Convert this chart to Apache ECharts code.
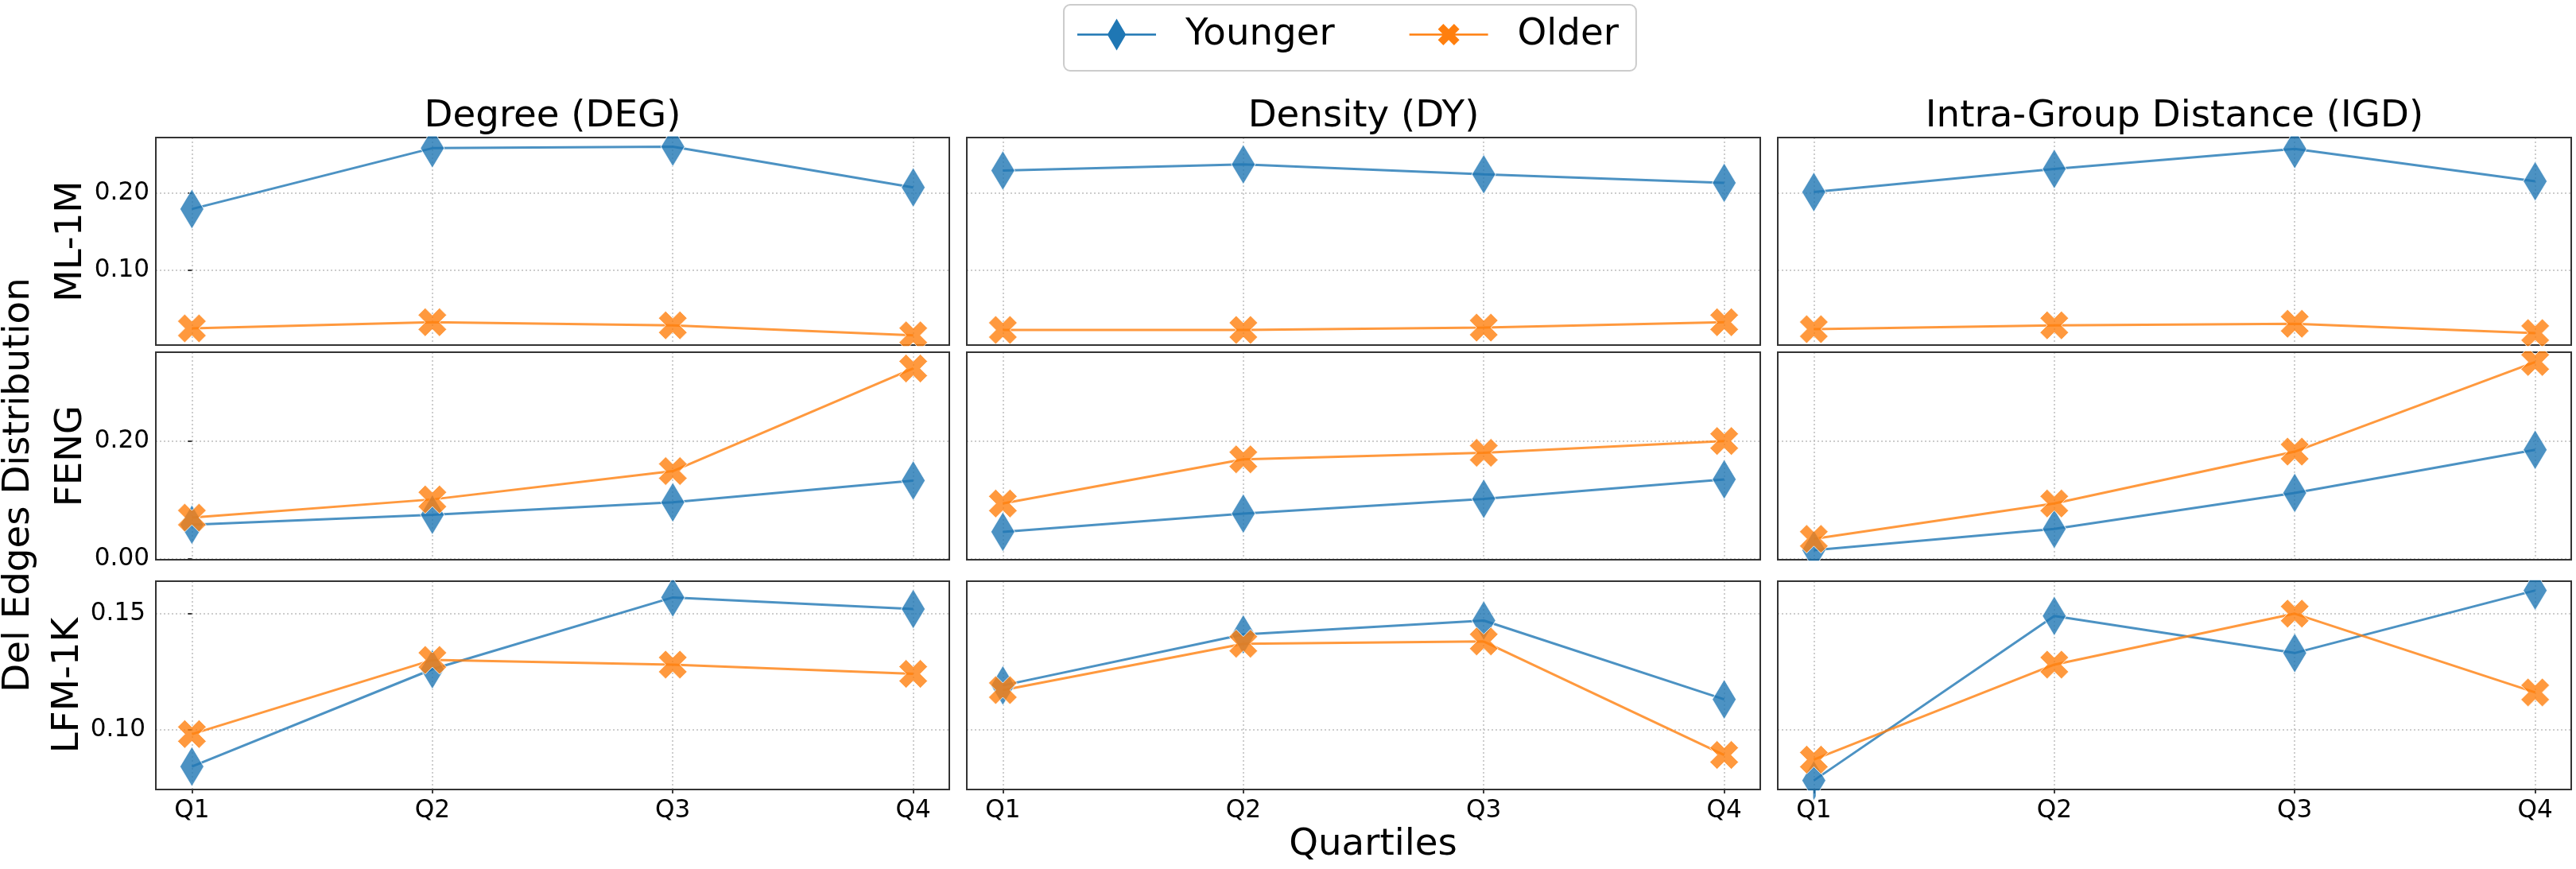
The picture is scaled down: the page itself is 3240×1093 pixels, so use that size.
<!DOCTYPE html>
<html><head><meta charset="utf-8">
<script src="https://cdn.jsdelivr.net/npm/echarts@6/dist/echarts.min.js"></script>
<style>html,body{margin:0;padding:0;background:#fff}#c{width:3240px;height:1093px}</style>
</head><body><div id="c"></div>
<script>
// ---------- data ----------
const quartiles = ['Q1', 'Q2', 'Q3', 'Q4'];
const metrics = ['Degree (DEG)', 'Density (DY)', 'Intra-Group Distance (IGD)'];
const datasets = ['ML-1M', 'FENG', 'LFM-1K'];
const groups = ['Younger', 'Older'];
// each array: [DEG, DY, IGD], each with values for Q1..Q4
const ml1mYounger = [[0.179, 0.258, 0.260, 0.207], [0.229, 0.237, 0.224, 0.213], [0.201, 0.231, 0.257, 0.215]];
const ml1mOlder   = [[0.024, 0.032, 0.028, 0.015], [0.022, 0.022, 0.025, 0.032], [0.023, 0.028, 0.030, 0.018]];
const fengYounger = [[0.058, 0.075, 0.096, 0.133], [0.046, 0.077, 0.102, 0.135], [0.015, 0.051, 0.112, 0.185]];
const fengOlder   = [[0.070, 0.101, 0.149, 0.323], [0.094, 0.169, 0.180, 0.200], [0.034, 0.094, 0.182, 0.334]];
const lfmYounger  = [[0.084, 0.126, 0.157, 0.152], [0.119, 0.141, 0.147, 0.113], [0.078, 0.149, 0.133, 0.160]];
const lfmOlder    = [[0.098, 0.130, 0.128, 0.124], [0.117, 0.137, 0.138, 0.089], [0.087, 0.128, 0.150, 0.116]];
const yTickValues = [[0.10, 0.20], [0.00, 0.20], [0.10, 0.15]];
const yTickStep = [0.1, 0.2, 0.05];
const yRanges = [[0.0024, 0.2718], [-0.0013, 0.3506], [0.0741, 0.1640]];

// ---------- layout / style ----------
const FONT = '"DejaVu Sans", "Liberation Sans", sans-serif';
const BIG = 46.7, TICK = 31.1;
const colLeft = [196, 1216, 2236], colWidth = 998;
const rowTop = [173, 443, 731], rowHeight = [261, 261, 262];
const yLabelMargin = [8, 8, 13];
const yNameGap = [83, 83, 87];
const colors = { Younger: '#1f77b4', Older: '#ff7f0e' };
const xSymbol = 'path://M6,0L8,2L6,4L8,6L6,8L4,6L2,8L0,6L2,4L0,2L2,0L4,2Z';
const younger = [ml1mYounger, fengYounger, lfmYounger];
const older = [ml1mOlder, fengOlder, lfmOlder];
const gridCol = '#bdbdbd';

const grids = [], xAxes = [], yAxes = [], series = [];
for (let r = 0; r < 3; r++) {
  for (let c = 0; c < 3; c++) {
    const k = r * 3 + c;
    grids.push({
      left: colLeft[c], top: rowTop[r], width: colWidth, height: rowHeight[r],
      show: true, borderColor: '#333', borderWidth: 2, backgroundColor: 'transparent',
      z: 1, containLabel: false, outerBoundsMode: 'none'
    });
    xAxes.push({
      type: 'value', gridIndex: k, min: -0.15, max: 3.15, minInterval: 1, maxInterval: 1,
      axisLine: { show: false },
      axisTick: { show: r === 2, length: 5, customValues: [0, 1, 2, 3], lineStyle: { color: '#000', width: 1.5 } },
      axisLabel: {
        show: r === 2, customValues: [0, 1, 2, 3], margin: 11,
        fontSize: TICK, fontFamily: FONT, color: '#000',
        formatter: v => (Number.isInteger(v) && v >= 0 && v < 4) ? quartiles[v] : ''
      },
      splitLine: { show: true, lineStyle: { color: gridCol, type: [2, 3], width: 1.5 } }
    });
    const step = yTickStep[r];
    yAxes.push({
      type: 'value', gridIndex: k, min: yRanges[r][0], max: yRanges[r][1],
      minInterval: step, maxInterval: step,
      name: c === 0 ? datasets[r] : '', nameLocation: 'middle', nameRotate: 90, nameGap: yNameGap[r],
      nameTextStyle: { fontSize: BIG, fontFamily: FONT, color: '#000' },
      axisLine: { show: false },
      axisTick: { show: c === 0, length: 5, customValues: yTickValues[r], lineStyle: { color: '#000', width: 1.5 } },
      axisLabel: {
        show: c === 0, customValues: yTickValues[r], margin: yLabelMargin[r],
        fontSize: TICK, fontFamily: FONT, color: '#000',
        formatter: v => Math.abs(v / step - Math.round(v / step)) < 1e-6 ? (Math.abs(v) < 1e-9 ? 0 : v).toFixed(2) : ''
      },
      splitLine: { show: true, lineStyle: { color: gridCol, type: [2, 3], width: 1.5 } }
    });
    const groupData = { Younger: younger[r][c], Older: older[r][c] };
    groups.forEach(g => {
      series.push({
        type: 'line', name: g, xAxisIndex: k, yAxisIndex: k, clip: true,
        data: groupData[g].map((v, i) => [i, v]),
        symbol: g === 'Younger' ? 'diamond' : xSymbol,
        symbolSize: g === 'Younger' ? [30, 50] : 36,
        itemStyle: { color: colors[g], opacity: 0.8, borderColor: '#fff', borderWidth: 1 },
        lineStyle: { color: colors[g], width: 3, opacity: 0.8 },
        emphasis: { disabled: true }, silent: true, z: 2
      });
    });
  }
}

const legendIconY = 'path://M0,18.75L99,18.75L99,21.25L0,21.25Z M37.75,20L49.5,0L61.25,20L49.5,40Z';
const legendIconO = 'path://M0,18.75L99,18.75L99,21.25L0,21.25Z M56.25,6.5L63,13.25L56.25,20L63,26.75L56.25,33.5L49.5,26.75L42.75,33.5L36,26.75L42.75,20L36,13.25L42.75,6.5L49.5,13.25Z M0,0L0.01,0L0,0.01Z M0,40L0.01,40L0,39.99Z';

const titleX = [695, 1715, 2735];
const graphics = [];
// masks emulating clipping of markers at the axes frames
graphics.push({ type: 'rect', z: 5, silent: true, shape: { x: 190, y: 92, width: 3050, height: 79.5 }, style: { fill: '#fff' } });
graphics.push({ type: 'rect', z: 5, silent: true, shape: { x: 200, y: 435.2, width: 3040, height: 6.6 }, style: { fill: '#fff' } });
graphics.push({ type: 'rect', z: 5, silent: true, shape: { x: 200, y: 705.2, width: 3040, height: 24.6 }, style: { fill: '#fff' } });
graphics.push({ type: 'rect', z: 5, silent: true, shape: { x: 2255, y: 994.2, width: 25.5, height: 11 }, style: { fill: '#fff' } });
graphics.push({ type: 'rect', z: 5, silent: true, shape: { x: 2283.8, y: 994.2, width: 25, height: 11 }, style: { fill: '#fff' } });
metrics.forEach((m, c) => graphics.push({
  type: 'text', z: 10, x: titleX[c], y: 147,
  style: { text: m, font: BIG + 'px ' + FONT, fill: '#000', textAlign: 'center', textVerticalAlign: 'middle' }
}));
graphics.push({
  type: 'text', z: 10, x: 24, y: 610, rotation: Math.PI / 2,
  style: { text: 'Del Edges Distribution', font: BIG + 'px ' + FONT, fill: '#000', textAlign: 'center', textVerticalAlign: 'middle' }
});
graphics.push({
  type: 'text', z: 10, x: 1727, y: 1063,
  style: { text: 'Quartiles', font: BIG + 'px ' + FONT, fill: '#000', textAlign: 'center', textVerticalAlign: 'middle' }
});

const chart = echarts.init(document.getElementById('c'), null, { renderer: 'canvas' });
chart.setOption({
  animation: false,
  backgroundColor: '#fff',
  grid: grids, xAxis: xAxes, yAxis: yAxes, series: series,
  legend: {
    left: 1338, top: 6, orient: 'horizontal', selectedMode: false,
    itemWidth: 99, itemHeight: 40, itemGap: 94,
    padding: [14, 22, 22, 17],
    backgroundColor: 'rgba(255,255,255,0.8)', borderColor: '#cccccc', borderWidth: 2, borderRadius: 8,
    textStyle: { fontSize: BIG, fontFamily: FONT, color: '#000', padding: [0, 0, 0, 32] },
    data: [
      { name: 'Younger', icon: legendIconY, itemStyle: { color: colors.Younger, opacity: 1, borderWidth: 0 } },
      { name: 'Older', icon: legendIconO, itemStyle: { color: colors.Older, opacity: 1, borderWidth: 0 } }
    ]
  },
  graphic: { elements: graphics }
});
</script>
</body></html>
